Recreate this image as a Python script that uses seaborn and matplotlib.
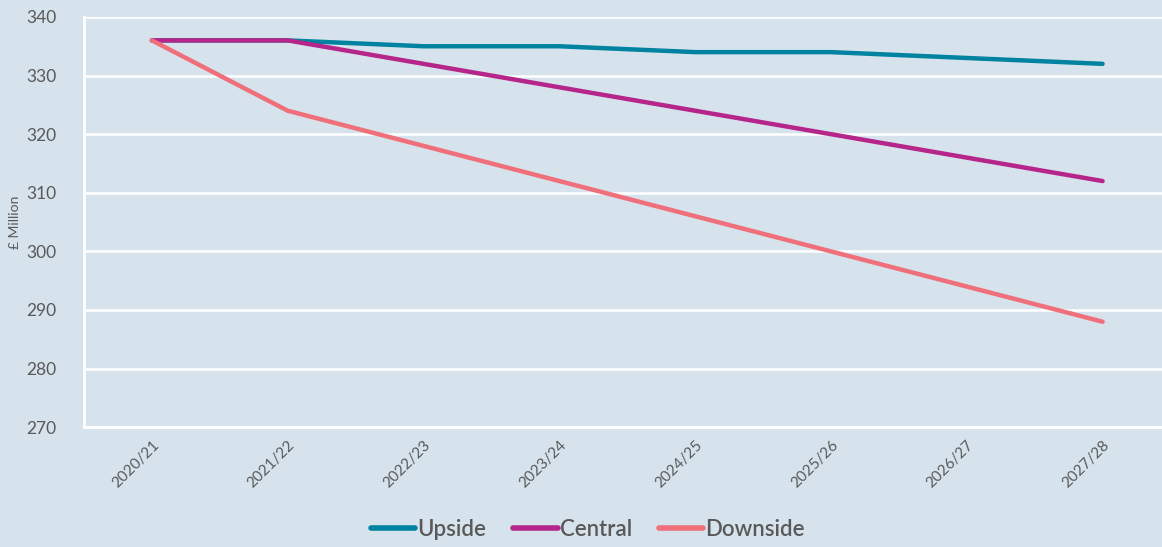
import pandas as pd
import matplotlib
matplotlib.use('Agg')
import matplotlib.pyplot as plt
import seaborn as sns

# Data
years = ['2020/21', '2021/22', '2022/23', '2023/24', '2024/25', '2025/26', '2026/27', '2027/28']
upside = [336, 336, 335, 335, 334, 334, 333, 332]
central = [336, 336, 332, 328, 324, 320, 316, 312]
downside = [336, 324, 318, 312, 306, 300, 294, 288]

df = pd.DataFrame({'Year': years, 'Upside': upside, 'Central': central, 'Downside': downside})
df_long = df.melt(id_vars='Year', var_name='Scenario', value_name='Value')

bg = '#d6e3ec'
text_col = '#595959'
palette = {'Upside': '#0083a0', 'Central': '#b5258a', 'Downside': '#ef6f7a'}

sns.set_style('white')
plt.rcParams['font.family'] = ['Lato', 'DejaVu Sans']

fig = plt.figure(figsize=(11.62, 5.47), dpi=100, facecolor=bg)
ax = fig.add_axes([0.0723, 0.219, 0.935, 0.75])
ax.set_facecolor(bg)

sns.lineplot(data=df_long, x='Year', y='Value', hue='Scenario', palette=palette,
             linewidth=3.2, sort=False, ax=ax, legend=False)
for line in ax.lines:
    line.set_solid_capstyle('round')
    line.set_solid_joinstyle('round')

ax.set_ylim(270, 340)
ax.set_yticks(range(270, 341, 10))
ax.set_xlim(-0.5, 7.5)
ax.grid(axis='y', color='white', linewidth=1.8)
ax.set_axisbelow(True)

for s in ['top', 'right']:
    ax.spines[s].set_visible(False)
for s in ['left', 'bottom']:
    ax.spines[s].set_color('white')
    ax.spines[s].set_linewidth(2)

ax.tick_params(axis='y', length=0, labelsize=12.5, labelcolor=text_col, pad=20)
ax.tick_params(axis='x', length=0, labelsize=11, labelcolor=text_col, pad=8)
plt.setp(ax.get_xticklabels(), rotation=45, ha='right', rotation_mode='anchor')
ax.set_xlabel('')
ax.set_ylabel('£ Million', fontsize=10, color=text_col, labelpad=6)
ax.yaxis.set_label_coords(-0.058, 0.5)

handles = [plt.Line2D([], [], color=palette[k], linewidth=4, solid_capstyle='round') for k in palette]
fig.legend(handles, list(palette.keys()), loc='center', bbox_to_anchor=(0.506, 0.032), ncol=3,
           frameon=False, prop={'size': 16, 'weight': 'semibold'}, handlelength=2.0,
           handletextpad=0.1, columnspacing=1.2, labelcolor=text_col)

fig.savefig('out.png', dpi=100, facecolor=bg)
